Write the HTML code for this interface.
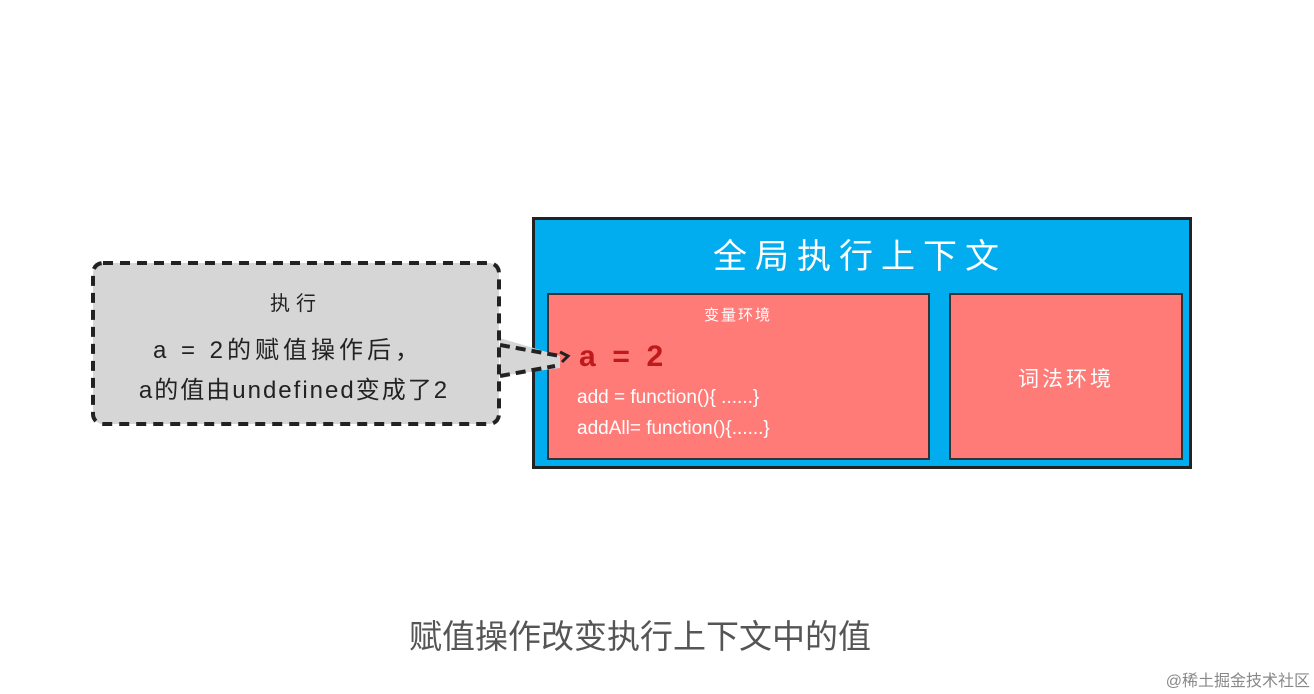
<!DOCTYPE html>
<html><head><meta charset="utf-8"><style>
html,body{margin:0;padding:0;background:#fff;}
body{width:1314px;height:694px;overflow:hidden;position:relative;font-family:"Liberation Sans","Noto Sans CJK SC",sans-serif;}
</style></head><body>
<svg width="1314" height="694" xmlns="http://www.w3.org/2000/svg" style="position:absolute;left:0;top:0">
<rect x="533.5" y="218.5" width="657" height="249" fill="#01adef" stroke="#222" stroke-width="3"/>
<rect x="548" y="294" width="381" height="165" fill="#fe7b78" stroke="#333" stroke-width="2"/>
<rect x="950" y="294" width="232" height="165" fill="#fe7b78" stroke="#333" stroke-width="2"/>
<path d="M500 338 L560 356 L560 368 L500 376 Z" fill="#d6d6d6"/>
<rect x="93" y="263" width="406" height="161" rx="10" fill="#d6d6d6" stroke="#222" stroke-width="4" stroke-dasharray="10,7"/>
<path d="M500 345 L560 356 M500 376 L555 366" stroke="#222" stroke-width="4" stroke-dasharray="10,6" fill="none"/>
<path d="M560 352 L568 356 L562 362" stroke="#222" stroke-width="3" fill="none"/>
<g font-family="Liberation Sans, Noto Sans CJK SC, sans-serif" fill="#fff">
<text x="860" y="268" font-size="34" text-anchor="middle" letter-spacing="8">全局执行上下文</text>
<text x="738" y="320" font-size="15" text-anchor="middle" letter-spacing="2">变量环境</text>
<text x="1066" y="386" font-size="21" text-anchor="middle" letter-spacing="3">词法环境</text>
<text x="577" y="403" font-size="19">add = function(){ ......}</text>
<text x="577" y="434" font-size="19">addAll= function(){......}</text>
</g>
<text x="579" y="366" font-size="30" font-weight="bold" fill="#c0191b" font-family="Liberation Sans, sans-serif" xml:space="preserve">a  =  2</text>
<g font-family="Liberation Sans, Noto Sans CJK SC, sans-serif" fill="#222" text-anchor="middle">
<text x="296" y="310" font-size="20" letter-spacing="6">执行</text>
<text x="288" y="358" font-size="24" letter-spacing="4">a = 2的赋值操作后，</text>
<text x="294" y="398" font-size="24" letter-spacing="2">a的值由undefined变成了2</text>
</g>
<text x="640" y="648" font-size="33" fill="#555" text-anchor="middle" font-family="Liberation Sans, Noto Sans CJK SC, sans-serif">赋值操作改变执行上下文中的值</text>
<text x="1310" y="686" font-size="16" fill="#888" text-anchor="end" font-family="Liberation Sans, Noto Sans CJK SC, sans-serif">@稀土掘金技术社区</text>
</svg>
</body></html>
